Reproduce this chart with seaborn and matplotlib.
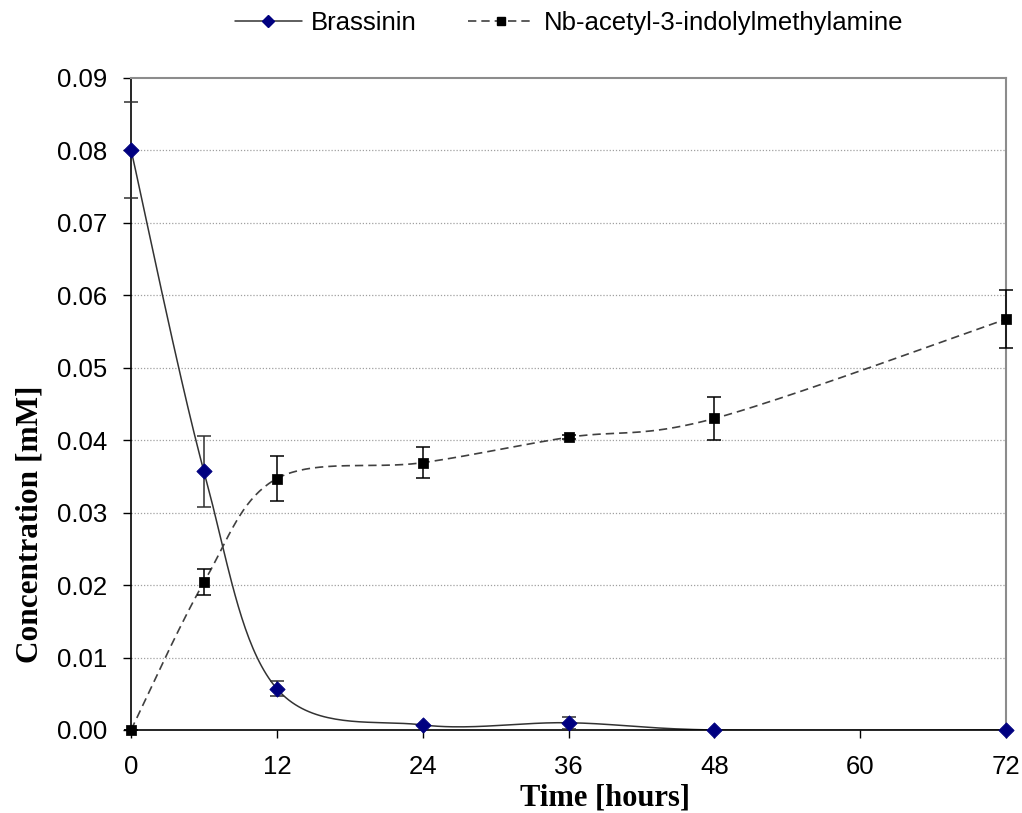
import numpy as np
import pandas as pd
import matplotlib
matplotlib.use("Agg")
import matplotlib.pyplot as plt
import seaborn as sns
from matplotlib.lines import Line2D

# Data
time_h = [0, 6, 12, 24, 36, 48, 72]
brassinin = [0.0801, 0.0357, 0.0057, 0.0007, 0.0010, 0.0000, 0.0000]
brassinin_err = [0.0066, 0.0049, 0.0010, 0.0000, 0.0008, 0.0000, 0.0000]
acetyl = [0.0000, 0.0204, 0.0347, 0.0369, 0.0404, 0.0430, 0.0567]
acetyl_err = [0.0000, 0.0018, 0.0031, 0.0021, 0.0003, 0.0030, 0.0040]
series_names = ["Brassinin", "Nb-acetyl-3-indolylmethylamine"]
x_ticks = [0, 12, 24, 36, 48, 60, 72]
y_ticks = [0.00, 0.01, 0.02, 0.03, 0.04, 0.05, 0.06, 0.07, 0.08, 0.09]


def excel_smooth(xs, ys, n=40):
    # Bezier smoothing like a spreadsheet "smoothed line"
    p = np.column_stack([xs, ys]).astype(float)
    p = np.vstack([p[0], p, p[-1]])
    out = []
    for i in range(1, len(p) - 2):
        p0, p1, p2, p3 = p[i - 1], p[i], p[i + 1], p[i + 2]
        c1 = p1 + (p2 - p0) / 6
        c2 = p2 - (p3 - p1) / 6
        t = np.linspace(0, 1, n)[:, None]
        seg = ((1 - t) ** 3) * p1 + 3 * ((1 - t) ** 2) * t * c1 + 3 * (1 - t) * t ** 2 * c2 + t ** 3 * p2
        out.append(seg if i == 1 else seg[1:])
    out = np.vstack(out)
    return pd.DataFrame({"x": out[:, 0], "y": out[:, 1]})


sns.set_style("white")
plt.rcParams["font.family"] = ["Liberation Sans", "DejaVu Sans"]
plt.rcParams["text.color"] = "black"
plt.rcParams["axes.labelcolor"] = "black"
plt.rcParams["xtick.color"] = "black"
plt.rcParams["ytick.color"] = "black"
serif = ["Liberation Serif", "DejaVu Serif"]
dash = (0, (5, 3))

fig = plt.figure(figsize=(10.22, 8.13), dpi=100)
ax = fig.add_axes([0.1282, 0.1021, 0.8562, 0.802])

for yv in y_ticks[1:-1]:
    ax.axhline(yv, color="#a0a0a0", lw=0.9, ls=(0, (1, 1.5)), zorder=0)

b_curve = excel_smooth(time_h, brassinin)
a_curve = excel_smooth(time_h, acetyl)
sns.lineplot(data=b_curve, x="x", y="y", sort=False, estimator=None, color="#333333",
             lw=1.1, ax=ax, zorder=2)
sns.lineplot(data=a_curve, x="x", y="y", sort=False, estimator=None, color="#404040",
             lw=1.2, ax=ax, zorder=2, linestyle=dash)

for vals, errs, col in [(brassinin, brassinin_err, "#303030"), (acetyl, acetyl_err, "black")]:
    eb = ax.errorbar(time_h, vals, yerr=errs, fmt="none", ecolor=col,
                     elinewidth=1.1, capsize=4.7, capthick=1.1, zorder=3)
    for art in eb.lines[1] + eb.lines[2]:
        art.set_clip_on(False)

df_b = pd.DataFrame({"t": time_h, "c": brassinin})
df_a = pd.DataFrame({"t": time_h, "c": acetyl})
sns.scatterplot(data=df_b, x="t", y="c", marker="D", s=60, color="#000080",
                edgecolor="#000080", ax=ax, zorder=4, clip_on=False)
sns.scatterplot(data=df_a, x="t", y="c", marker="s", s=45, color="black",
                edgecolor="black", ax=ax, zorder=4, clip_on=False)

ax.set_xlim(0, 72)
ax.set_ylim(0, 0.09)
ax.set_xticks(x_ticks)
ax.set_yticks(y_ticks)
ax.set_yticklabels([f"{v:.2f}" for v in y_ticks])
ax.tick_params(axis="both", labelsize=18.5, direction="out", length=6, width=1,
               color="black", labelcolor="black", bottom=True, left=True)
ax.tick_params(axis="x", pad=12)
ax.tick_params(axis="y", pad=11)

for side in ["left", "bottom"]:
    ax.spines[side].set_color("black")
    ax.spines[side].set_linewidth(1.2)
for side in ["top", "right"]:
    ax.spines[side].set_color("#8c8c8c")
    ax.spines[side].set_linewidth(1.5)

ax.set_xlabel("Time [hours]", fontsize=22, fontweight="bold", family=serif, color="black")
ax.set_ylabel("Concentration [mM]", fontsize=22.5, fontweight="bold", family=serif, color="black")
ax.xaxis.label.set_va("bottom")
ax.xaxis.set_label_coords(0.542, -0.127)
ax.yaxis.set_label_coords(-0.0994, 0.316)

handles = [
    Line2D([0], [0], color="#333333", lw=1.1, marker="D", markersize=6,
           markerfacecolor="#000080", markeredgecolor="#000080"),
    Line2D([0], [0], color="#404040", lw=1.2, ls=dash, marker="s", markersize=6,
           markerfacecolor="black", markeredgecolor="black"),
]
fig.legend(handles, series_names, loc="center", bbox_to_anchor=(0.557, 0.972),
           ncol=2, frameon=False, fontsize=18.5, handlelength=2.58, columnspacing=1.97,
           handletextpad=0.38, borderaxespad=0)

fig.savefig("out.png", dpi=100)
